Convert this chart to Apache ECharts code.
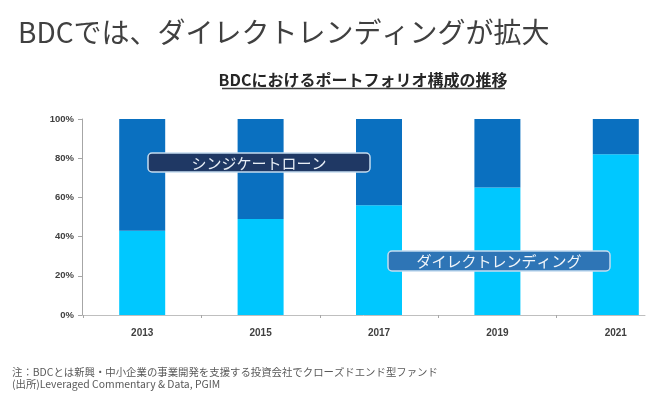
<!DOCTYPE html>
<html>
<head>
<meta charset="utf-8">
<script src="https://cdn.jsdelivr.net/npm/echarts@6/dist/echarts.min.js"></script>
<style>
html,body{margin:0;padding:0;background:#fff;}
#c{width:660px;height:393px;}
</style>
</head>
<body>
<div id="c"></div>
<script>
var categories = ['2013', '2015', '2017', '2019', '2021'];
var directLending = [43, 49, 56, 65, 82];
var syndicatedLoan = [57, 51, 44, 35, 18];
var yTicks = [0, 20, 40, 60, 80, 100];

var chart = echarts.init(document.getElementById('c'), null, {renderer: 'canvas'});
var cjk = '"Noto Sans CJK JP", "Noto Sans", sans-serif';
var latin = '"Liberation Sans", Arial, sans-serif';

var option = {
  animation: false,
  backgroundColor: '#ffffff',
  title: {
    text: 'BDCでは、ダイレクトレンディングが拡大',
    left: 13, top: 13,
    textStyle: {fontFamily: cjk, fontSize: 28, fontWeight: 'normal', color: '#404040'}
  },
  grid: [
    {left: 83, right: -15, top: 119, bottom: 78, outerBoundsMode: 'none', containLabel: false},
    {left: 82, right: 15, top: 119, bottom: 78}
  ],
  xAxis: [
    {
      type: 'category', gridIndex: 0, data: categories,
      axisLine: {show: false},
      axisTick: {show: true, length: 3, lineStyle: {color: '#A6A6A6'}},
      axisLabel: {fontFamily: latin, fontSize: 10, fontWeight: 'bold', color: '#404040', margin: 13}
    },
    {
      type: 'value', gridIndex: 1, min: 0, max: 1,
      axisLine: {show: true, lineStyle: {color: '#BFBFBF', width: 1}},
      axisTick: {show: false}, axisLabel: {show: false}, splitLine: {show: false}
    }
  ],
  yAxis: [
    {
      type: 'value', gridIndex: 0, show: false, min: 0, max: 100, interval: 20
    },
    {
      type: 'value', gridIndex: 1, min: 0, max: 100, interval: 20,
      axisLine: {show: true, lineStyle: {color: '#A6A6A6', width: 1}},
      axisTick: {show: true, length: 4, lineStyle: {color: '#A6A6A6'}},
      axisLabel: {
        formatter: function (v) { return yTicks.indexOf(v) >= 0 ? v + '%' : ''; },
        fontFamily: latin, fontSize: 9.5, fontWeight: 'bold', color: '#404040', margin: 8
      },
      splitLine: {show: false}
    }
  ],
  series: [
    {
      name: 'ダイレクトレンディング', type: 'bar', stack: 'a',
      xAxisIndex: 0, yAxisIndex: 0, barWidth: 46,
      data: directLending,
      itemStyle: {color: '#00C8FF'}
    },
    {
      name: 'シンジケートローン', type: 'bar', stack: 'a',
      xAxisIndex: 0, yAxisIndex: 0, barWidth: 46,
      data: syndicatedLoan,
      itemStyle: {color: '#0A70C0'}
    }
  ],
  graphic: {
    zlevel: 1,
    elements: [
      {
        type: 'text', x: 363, y: 80,
        style: {text: 'BDCにおけるポートフォリオ構成の推移', align: 'center', verticalAlign: 'middle',
          font: 'bold 16px ' + cjk, fill: '#262626'}
      },
      {
        type: 'line', shape: {x1: 222, y1: 88.5, x2: 505, y2: 88.5},
        style: {stroke: '#404040', lineWidth: 1.5}
      },
      {
        type: 'rect', zlevel: 1, z: 100, shape: {x: 148, y: 153, width: 222, height: 19, r: 4},
        style: {fill: '#1F3864', stroke: '#C5DCEF', lineWidth: 1.5}
      },
      {
        type: 'text', zlevel: 1, z: 101, x: 259, y: 163,
        style: {text: 'シンジケートローン', align: 'center', verticalAlign: 'middle',
          font: '15px ' + cjk, fill: '#E8EEF6'}
      },
      {
        type: 'rect', zlevel: 1, z: 100, shape: {x: 388, y: 251, width: 222, height: 20, r: 4},
        style: {fill: '#2E75B6', stroke: '#C5DCEF', lineWidth: 1.5}
      },
      {
        type: 'text', zlevel: 1, z: 101, x: 499, y: 261.5,
        style: {text: 'ダイレクトレンディング', align: 'center', verticalAlign: 'middle',
          font: '15px ' + cjk, fill: '#F2F6FA'}
      },
      {
        type: 'text', x: 12, y: 372,
        style: {text: '注：BDCとは新興・中小企業の事業開発を支援する投資会社でクローズドエンド型ファンド',
          verticalAlign: 'middle', font: '10.4px ' + cjk, fill: '#595959'}
      },
      {
        type: 'text', x: 12, y: 384,
        style: {text: '(出所)Leveraged Commentary & Data, PGIM',
          verticalAlign: 'middle', font: '10.4px ' + cjk, fill: '#595959'}
      }
    ]
  }
};
chart.setOption(option);
</script>
</body>
</html>
